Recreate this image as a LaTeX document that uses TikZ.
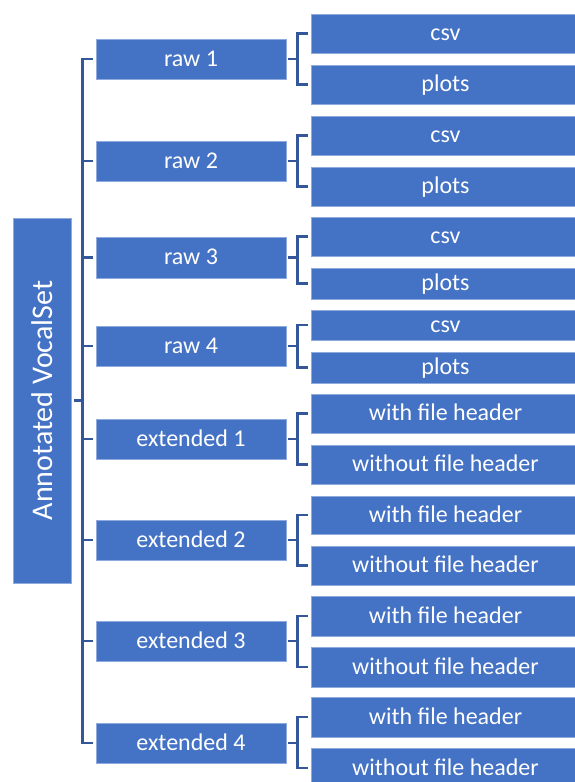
\documentclass[tikz,border=0pt]{standalone}
\usepackage{fontspec}
\setmainfont{Carlito}
\definecolor{boxblue}{RGB}{68,114,196}
\definecolor{edgeblue}{RGB}{143,170,220}
\definecolor{lineblue}{RGB}{52,86,154}
\tikzset{
  boxbase/.style={rectangle, fill=boxblue, draw=edgeblue, line width=0.8pt, inner sep=0pt, text=white, align=center},
  rootbox/.style={boxbase, minimum width=365pt, minimum height=58pt, rotate=90, font=\fontsize{30}{32}\selectfont},
  midbox/.style={boxbase, minimum width=190pt, text height=18pt, text depth=4pt, font=\fontsize{24}{26}\selectfont},
  leafbox/.style={boxbase, minimum width=269pt, text height=18pt, text depth=4pt, font=\fontsize{24}{26}\selectfont},
  conn/.style={draw=lineblue, line width=2.5pt}
}
\begin{document}
\begin{tikzpicture}[x=1pt,y=-1pt]
\useasboundingbox (0,0) rectangle (574,782);
% root
\node[rootbox] (root) at (42,400.5) {Annotated VocalSet};
% second level
\node[midbox, minimum height=40pt] (r1) at (191,59) {raw 1};
\node[midbox, minimum height=40pt] (r2) at (191,161) {raw 2};
\node[midbox, minimum height=41pt] (r3) at (191,257.5) {raw 3};
\node[midbox, minimum height=40pt] (r4) at (191,346) {raw 4};
\node[midbox, minimum height=40pt] (e1) at (191,439) {extended 1};
\node[midbox, minimum height=40pt] (e2) at (191,540) {extended 2};
\node[midbox, minimum height=40pt] (e3) at (191,641) {extended 3};
\node[midbox, minimum height=40pt] (e4) at (191,743) {extended 4};
% leaves
\node[leafbox, minimum height=39pt] (r1a) at (445.5,33.5) {csv};
\node[leafbox, minimum height=39pt] (r1b) at (445.5,84.5) {plots};
\node[leafbox, minimum height=39pt] (r2a) at (445.5,135.5) {csv};
\node[leafbox, minimum height=39pt] (r2b) at (445.5,186.5) {plots};
\node[leafbox, minimum height=39pt] (r3a) at (445.5,236.5) {csv};
\node[leafbox, minimum height=31pt] (r3b) at (445.5,283.5) {plots};
\node[leafbox, minimum height=30pt] (r4a) at (445.5,325) {csv};
\node[leafbox, minimum height=31pt] (r4b) at (445.5,367.5) {plots};
\node[leafbox, minimum height=39pt] (e1a) at (445.5,413.5) {with file header};
\node[leafbox, minimum height=39pt] (e1b) at (445.5,464.5) {without file header};
\node[leafbox, minimum height=38pt] (e2a) at (445.5,515) {with file header};
\node[leafbox, minimum height=39pt] (e2b) at (445.5,565.5) {without file header};
\node[leafbox, minimum height=40pt] (e3a) at (445.5,616) {with file header};
\node[leafbox, minimum height=40pt] (e3b) at (445.5,667) {without file header};
\node[leafbox, minimum height=40pt] (e4a) at (445.5,717) {with file header};
\node[leafbox, minimum height=40pt] (e4b) at (445.5,768) {without file header};
% trunk
\coordinate (tr) at ([xshift=-13pt]r1.west);
\draw[conn] ([xshift=-3pt]r1.west) -| (tr) |- ([xshift=-3pt]e4.west);
\foreach \n in {r2,r3,r4,e1,e2,e3}{
  \draw[conn] ([xshift=-3pt]\n.west) -- (\n.west -| tr);
}
\draw[conn] ([xshift=3pt]root.south) -- (root.south -| tr);
% brackets
\foreach \p in {r1,r2,r3,r4,e1,e2,e3,e4}{
  \draw[conn] ([xshift=2pt]\p.east) -- ([xshift=11pt]\p.east);
  \draw[conn] ([xshift=-3pt]\p a.west) -| ([xshift=11pt]\p.east) |- ([xshift=-3pt]\p b.west);
}
\end{tikzpicture}
\end{document}
